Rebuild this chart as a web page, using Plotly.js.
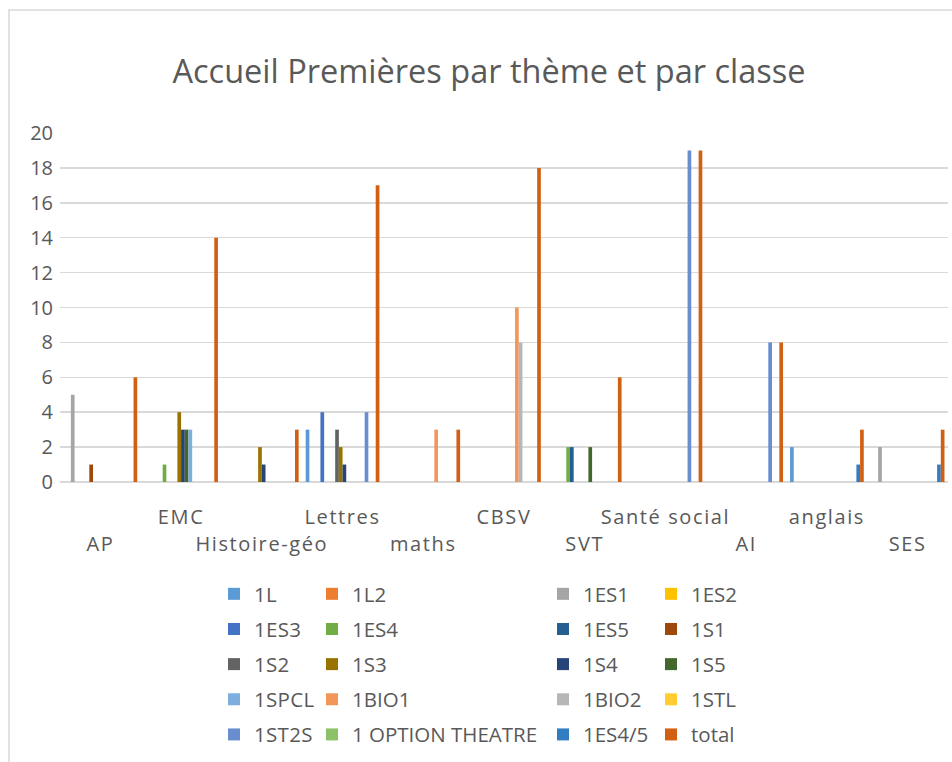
<!DOCTYPE html>
<html>
<head>
<meta charset="utf-8">
<script src="https://cdn.plot.ly/plotly-3.0.1.min.js"></script>
<style>
html,body{margin:0;padding:0;background:#fff;}
#chart{width:952px;height:762px;}
.xtick text, .x2tick text{letter-spacing:1.6px;}
.legendtext{letter-spacing:0.3px;}
</style>
</head>
<body>
<div id="chart"></div>
<script>
// Categories (themes)
const categories = ["AP","EMC","Histoire-géo","Lettres","maths","CBSV","SVT","Santé social","AI","anglais","SES"];

// Series (classes)
const seriesNames = ["1L","1L2","1ES1","1ES2","1ES3","1ES4","1ES5","1S1","1S2","1S3","1S4","1S5","1SPCL","1BIO1","1BIO2","1STL","1ST2S","1 OPTION THEATRE","1ES4/5","total"];

const v_1L     = [0,0,0,3,0,0,0,0,0,2,0];
const v_1L2    = [0,0,0,0,0,0,0,0,0,0,0];
const v_1ES1   = [5,0,0,0,0,0,0,0,0,0,2];
const v_1ES2   = [0,0,0,0,0,0,0,0,0,0,0];
const v_1ES3   = [0,0,0,4,0,0,0,0,0,0,0];
const v_1ES4   = [0,1,0,0,0,0,2,0,0,0,0];
const v_1ES5   = [0,0,0,0,0,0,2,0,0,0,0];
const v_1S1    = [1,0,0,0,0,0,0,0,0,0,0];
const v_1S2    = [0,0,0,3,0,0,0,0,0,0,0];
const v_1S3    = [0,4,2,2,0,0,0,0,0,0,0];
const v_1S4    = [0,3,1,1,0,0,0,0,0,0,0];
const v_1S5    = [0,3,0,0,0,0,2,0,0,0,0];
const v_1SPCL  = [0,3,0,0,0,0,0,0,0,0,0];
const v_1BIO1  = [0,0,0,0,3,10,0,0,0,0,0];
const v_1BIO2  = [0,0,0,0,0,8,0,0,0,0,0];
const v_1STL   = [0,0,0,0,0,0,0,0,0,0,0];
const v_1ST2S  = [0,0,0,4,0,0,0,19,8,0,0];
const v_1OPT   = [0,0,0,0,0,0,0,0,0,0,0];
const v_1ES45  = [0,0,0,0,0,0,0,0,0,1,1];
const v_total  = [6,14,3,17,3,18,6,19,8,3,3];

const seriesValues = [v_1L,v_1L2,v_1ES1,v_1ES2,v_1ES3,v_1ES4,v_1ES5,v_1S1,v_1S2,v_1S3,v_1S4,v_1S5,v_1SPCL,v_1BIO1,v_1BIO2,v_1STL,v_1ST2S,v_1OPT,v_1ES45,v_total];

const seriesColors = ["#5B9BD5","#ED7D31","#A5A5A5","#FFC000","#4472C4","#70AD47","#255E91","#9E480E","#636363","#997300","#264478","#43682B","#7CAFDD","#F1975A","#B7B7B7","#FFCD33","#698ED0","#8CC168","#327DC2","#D26012"];

const yTicks = [0,2,4,6,8,10,12,14,16,18,20];

const W = 952, H = 762;
const FONT = "Open Sans, Liberation Sans, sans-serif";
const GREY = "#595959";

const legendIds = ["legend","legend2","legend3","legend4"];

const traces = seriesNames.map((name, i) => ({
  type: "bar",
  name: name,
  x: categories,
  y: seriesValues[i],
  marker: {color: seriesColors[i], line: {width: 0}},
  legend: legendIds[i % 4],
  legendgroup: "g" + i,
  hoverinfo: "name+y"
}));

// helper axis for second row of category labels
traces.push({type: "scatter", x: [], y: [], xaxis: "x2", yaxis: "y", showlegend: false, hoverinfo: "skip"});

const upperIdx = categories.map((c, i) => i).filter(i => i % 2 === 1);
const lowerIdx = categories.map((c, i) => i).filter(i => i % 2 === 0);

const legendTextX = [255, 353, 584, 692];
function legendCfg(k) {
  return {
    xref: "container", yref: "container",
    x: (legendTextX[k] - 41) / W, xanchor: "left",
    y: 1 - 574 / H, yanchor: "top",
    orientation: "v",
    traceorder: "grouped",
    tracegroupgap: 5.5,
    bgcolor: "rgba(0,0,0,0)",
    borderwidth: 0,
    font: {family: FONT, size: 20.5, color: GREY}
  };
}

const layout = {
  width: W, height: H,
  paper_bgcolor: "#ffffff",
  plot_bgcolor: "#ffffff",
  margin: {l: 60, r: 4, t: 133, b: 280, pad: 0, autoexpand: false},
  barmode: "group",
  bargap: 0.087,
  bargroupgap: 0,
  title: {
    text: "Accueil Premières par thème et par classe",
    font: {family: FONT, size: 32.5, color: GREY},
    xref: "container", yref: "container",
    x: 489 / W, xanchor: "center",
    y: 1 - 72 / H, yanchor: "middle"
  },
  xaxis: {
    type: "category",
    categoryorder: "array",
    categoryarray: categories,
    range: [-0.5, categories.length - 0.5],
    tickmode: "array",
    tickvals: upperIdx.map(i => categories[i]),
    ticktext: upperIdx.map(i => categories[i]),
    showgrid: false,
    zeroline: false,
    showline: false,
    ticks: "",
    ticklabelstandoff: 21,
    tickfont: {family: FONT, size: 20, color: GREY},
    fixedrange: true
  },
  xaxis2: {
    overlaying: "x",
    anchor: "y",
    side: "bottom",
    type: "linear",
    range: [-0.5, categories.length - 0.5],
    tickmode: "array",
    tickvals: lowerIdx,
    ticktext: lowerIdx.map(i => categories[i]),
    showgrid: false,
    zeroline: false,
    showline: false,
    ticks: "",
    ticklabelstandoff: 48,
    tickfont: {family: FONT, size: 20, color: GREY},
    fixedrange: true
  },
  yaxis: {
    range: [0, 20],
    tickmode: "array",
    tickvals: yTicks,
    ticktext: yTicks.map(String),
    showgrid: true,
    gridcolor: "#D9D9D9",
    gridwidth: 1.5,
    zeroline: true,
    zerolinecolor: "#D9D9D9",
    zerolinewidth: 1.5,
    showline: false,
    ticks: "",
    ticklabelstandoff: 6,
    tickfont: {family: FONT, size: 20, color: GREY},
    fixedrange: true
  },
  legend: legendCfg(0),
  legend2: legendCfg(1),
  legend3: legendCfg(2),
  legend4: legendCfg(3),
  shapes: [{
    type: "rect", xref: "paper", yref: "paper",
    x0: -51 / 888, x1: 1.2, y0: -1.2, y1: 1 + 123 / 349,
    line: {color: "#D9D9D9", width: 1.5},
    fillcolor: "rgba(0,0,0,0)",
    layer: "below"
  }]
};

Plotly.newPlot("chart", traces, layout, {displayModeBar: false, staticPlot: true});
</script>
</body>
</html>
